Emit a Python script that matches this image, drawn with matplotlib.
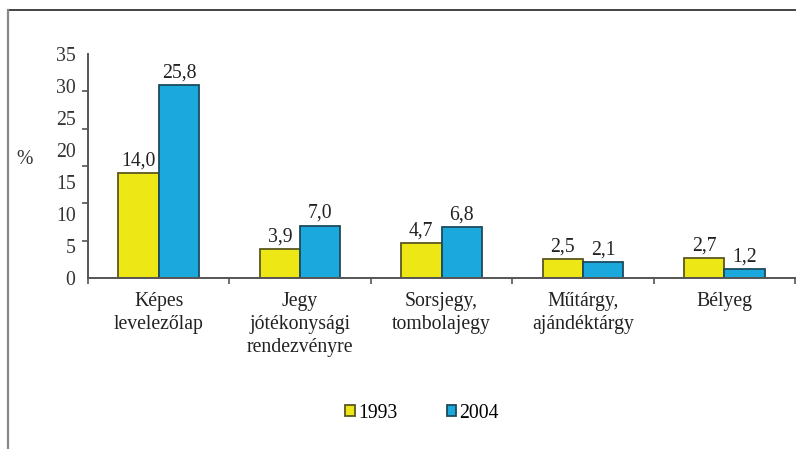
import matplotlib.pyplot as plt
import numpy as np
from matplotlib.lines import Line2D
from matplotlib.patches import Rectangle

categories = ["Képes\nlevelezőlap", "Jegy\njótékonysági\nrendezvényre",
              "Sorsjegy,\ntombolajegy", "Műtárgy,\najándéktárgy", "Bélyeg"]
years = ["1993", "2004"]
v1993 = [14.0, 3.9, 4.7, 2.5, 2.7]
v2004 = [25.8, 7.0, 6.8, 2.1, 1.2]
ytick_labels = ["0", "5", "10", "15", "20", "25", "30", "35"]

YELLOW = "#ede716"
YELLOW_EDGE = "#5a5720"
BLUE = "#1ba9dd"
BLUE_EDGE = "#1d4a5c"
FONT = "Liberation Serif"
FS = 14.2

plt.rcParams["font.family"] = FONT

fig = plt.figure(figsize=(7.96, 4.49), dpi=100)
ax = fig.add_axes([0.1106, 0.3808, 0.8881, 0.4989])

x = np.arange(len(categories))
w = 0.285
b1 = ax.bar(x - w / 2, v1993, w, color=YELLOW, edgecolor=YELLOW_EDGE, lw=1.3)
b2 = ax.bar(x + w / 2, v2004, w, color=BLUE, edgecolor=BLUE_EDGE, lw=1.3)
for bars, vals in [(b1, v1993), (b2, v2004)]:
    for bar, v in zip(bars, vals):
        ax.annotate(f"{v:.1f}".replace(".", ","),
                    (bar.get_x() + bar.get_width() / 2, v),
                    xytext=(0, 2), textcoords="offset points",
                    ha="center", va="bottom", fontsize=FS, color="#222222")

ax.set_xlim(-0.5, len(categories) - 0.5)
ax.set_ylim(0, 30)

# tick marks every 5, labels spread evenly as in the source graphic
ax.set_yticks(np.arange(0, 31, 5), minor=True)
ax.set_yticks(np.linspace(0, 30, len(ytick_labels)))
ax.set_yticklabels(ytick_labels)
ax.tick_params(axis="y", which="major", length=0, pad=9, labelsize=FS,
               labelcolor="#333333")
ax.tick_params(axis="y", which="minor", length=4, width=1.2, color="#555555")

ax.set_xticks(x)
ax.set_xticklabels(categories, linespacing=1.3)
ax.set_xticks(np.arange(-0.5, len(categories), 1), minor=True)
ax.tick_params(axis="x", which="major", length=0, pad=10, labelsize=FS,
               labelcolor="#222222")
ax.tick_params(axis="x", which="minor", length=4, width=1.2, color="#555555")

for s in ["top", "right"]:
    ax.spines[s].set_visible(False)
for s in ["left", "bottom"]:
    ax.spines[s].set_color("#555555")
    ax.spines[s].set_linewidth(1.4)
ax.patch.set_alpha(0)

fig.text(25 / 796, 1 - 160 / 449, "%", ha="center", va="center",
         fontsize=FS, color="#333333")

# legend
handles = [Rectangle((0, 0), 1, 1, fc=YELLOW, ec=YELLOW_EDGE, lw=1.3),
           Rectangle((0, 0), 1, 1, fc=BLUE, ec=BLUE_EDGE, lw=1.3)]
fig.legend(handles, years, loc="center", bbox_to_anchor=(422 / 796, 1 - 413 / 449),
           ncol=2, frameon=False, fontsize=FS, handlelength=0.5,
           handleheight=0.5, handletextpad=0.15, columnspacing=2.5)

# outer frame (top and left edges only)
fig.add_artist(Line2D([8 / 796, 1], [1 - 10 / 449, 1 - 10 / 449],
                      transform=fig.transFigure, color="#222222", lw=1.2))
fig.add_artist(Line2D([8 / 796, 8 / 796], [0, 1 - 10 / 449],
                      transform=fig.transFigure, color="#888888", lw=1.6))

fig.savefig("out.png", dpi=100)
